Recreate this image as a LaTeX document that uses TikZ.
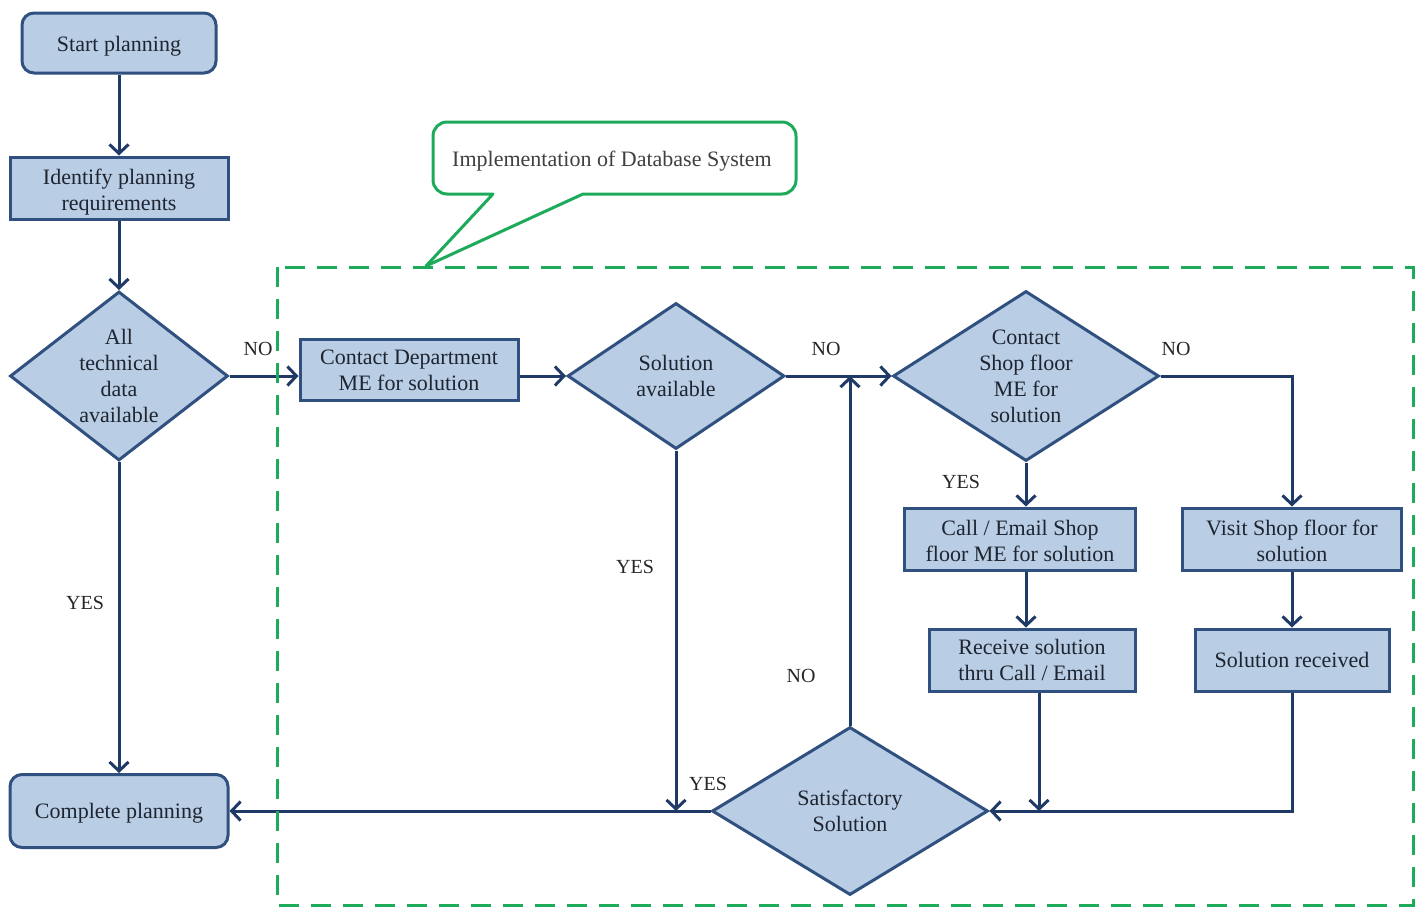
\documentclass[tikz,border=0pt]{standalone}
\usepackage{fontspec}
\setmainfont{Liberation Serif}
\usetikzlibrary{arrows.meta,shapes.geometric}
\definecolor{boxfill}{HTML}{B9CDE5}
\definecolor{boxline}{HTML}{30507F}
\definecolor{flow}{HTML}{1F3A66}
\definecolor{zone}{HTML}{1DAA5A}
\definecolor{ink}{HTML}{1E2530}
% lower a piece of text without changing the box size it reports
\newcommand{\lowered}[2]{\raisebox{-#1}[\height][\depth]{#2}}
\newcommand{\twolines}[2]{\begin{tabular}{@{}c@{}}#1\\#2\end{tabular}}
\begin{document}
\begin{tikzpicture}[x=1pt,y=-1pt,
  every node/.style={font=\fontsize{22}{26}\selectfont, text=ink},
  proc/.style={draw=boxline, fill=boxfill, line width=3pt, rectangle, inner sep=0pt, align=center},
  term/.style={proc, rounded corners=12pt},
  dec/.style={draw=boxline, fill=boxfill, line width=3pt, diamond, inner sep=0pt},
  flowline/.style={draw=flow, line width=3pt, line join=miter, -{Straight Barb[length=9pt,width=19pt]}},
  ans/.style={font=\fontsize{20}{24}\selectfont, text=black!85},
  dashzone/.style={draw=zone, line width=3pt, dash pattern=on 20pt off 12pt},
  callout/.style={draw=zone, fill=white, line width=3pt, line join=round},
]
\useasboundingbox (0,0) rectangle (1423,908);

% main column
\node[term, minimum width=194pt, minimum height=60pt] (start) at (119,43) {\lowered{3pt}{Start planning}};
\node[proc, minimum width=218pt, minimum height=62pt] (ident) at (119,188)
  {\lowered{4pt}{\twolines{Identify planning}{requirements}}};
\node[dec, minimum width=218pt, minimum height=169pt,
  label={[align=center]center:All\\technical\\data\\available}] (d1) at (119,376) {};
\node[term, minimum width=218pt, minimum height=73pt] (done) at (119,811) {\lowered{2pt}{Complete planning}};

% database zone
\node[proc, minimum width=218pt, minimum height=61pt] (dept) at (409,370) {Contact Department\\ME for solution};
\node[dec, minimum width=217pt, minimum height=146pt,
  label={[align=center]center:Solution\\available}] (d2) at (676,376) {};
\node[dec, minimum width=266pt, minimum height=170pt,
  label={[align=center]center:Contact\\Shop floor\\ME for\\solution}] (d3) at (1026,376) {};
\node[proc, minimum width=231pt, minimum height=62pt] (call) at (1020,539)
  {\lowered{4pt}{\twolines{Call / Email Shop}{floor ME for solution}}};
\node[proc, minimum width=219pt, minimum height=62pt] (visit) at (1292,539)
  {\lowered{4pt}{\twolines{Visit Shop floor for}{solution}}};
\node[proc, minimum width=206pt, minimum height=62pt] (recv) at (1032,660) {Receive solution\\thru Call / Email};
\node[proc, minimum width=194pt, minimum height=62pt] (got) at (1292,660) {Solution received};
\node[dec, minimum width=276pt, minimum height=168pt,
  label={[align=center]center:Satisfactory\\Solution}] (sat) at (850,811) {};

% connectors
\draw[flowline] (start) -- (ident);
\draw[flowline] (ident) -- (d1);
\draw[flowline] (d1.east) -- (d1.east -| dept.west);
\draw[flowline] (d1) -- (done);
\draw[flowline] (d2.west -| dept.east) -- (d2.west);
\draw[flowline] (d2.east) -- (d3.west);
\draw[flowline] (d2.south) -- (d2.south |- sat.west);
\draw[flowline] (sat.west) -- (done.east);
\draw[flowline] (sat.north) -- (sat.north |- d2.east);
\draw[flowline] (d3.south) -- (d3.south |- call.north);
\draw[flowline] (d3.east) -| (visit.north);
\draw[flowline] (d3.south |- call.south) -- (d3.south |- recv.north);
\draw[flowline] (visit) -- (got);
\coordinate (rj) at (1039,811);
\draw[flowline] (rj |- recv.south) -- (rj);
\draw[flowline] (got.south) |- (sat.east);

% branch labels
\node[ans] (l1) at (258,349) {NO};
\node[ans] (l2) at (85,603) {YES};
\node[ans] (l3) at (826,349) {NO};
\node[ans] (l4) at (635,567) {YES};
\node[ans] (l5) at (961,482) {YES};
\node[ans] (l6) at (1176,349) {NO};
\node[ans] (l7) at (801,676) {NO};
\node[ans] (l8) at (708,784) {YES};

% database implementation zone and its callout
\draw[dashzone] (277,267) rectangle (1413,905);
\draw[callout] (583,194) [rounded corners=14pt] -- (796,194) -- (796,122) -- (433,122) -- (433,194) [sharp corners] -- (493,194) -- (426,266) -- cycle;
\node[text=black!75, font=\fontsize{22}{26}\selectfont] (ctext) at (612,161) {Implementation of Database System};
\end{tikzpicture}
\end{document}
